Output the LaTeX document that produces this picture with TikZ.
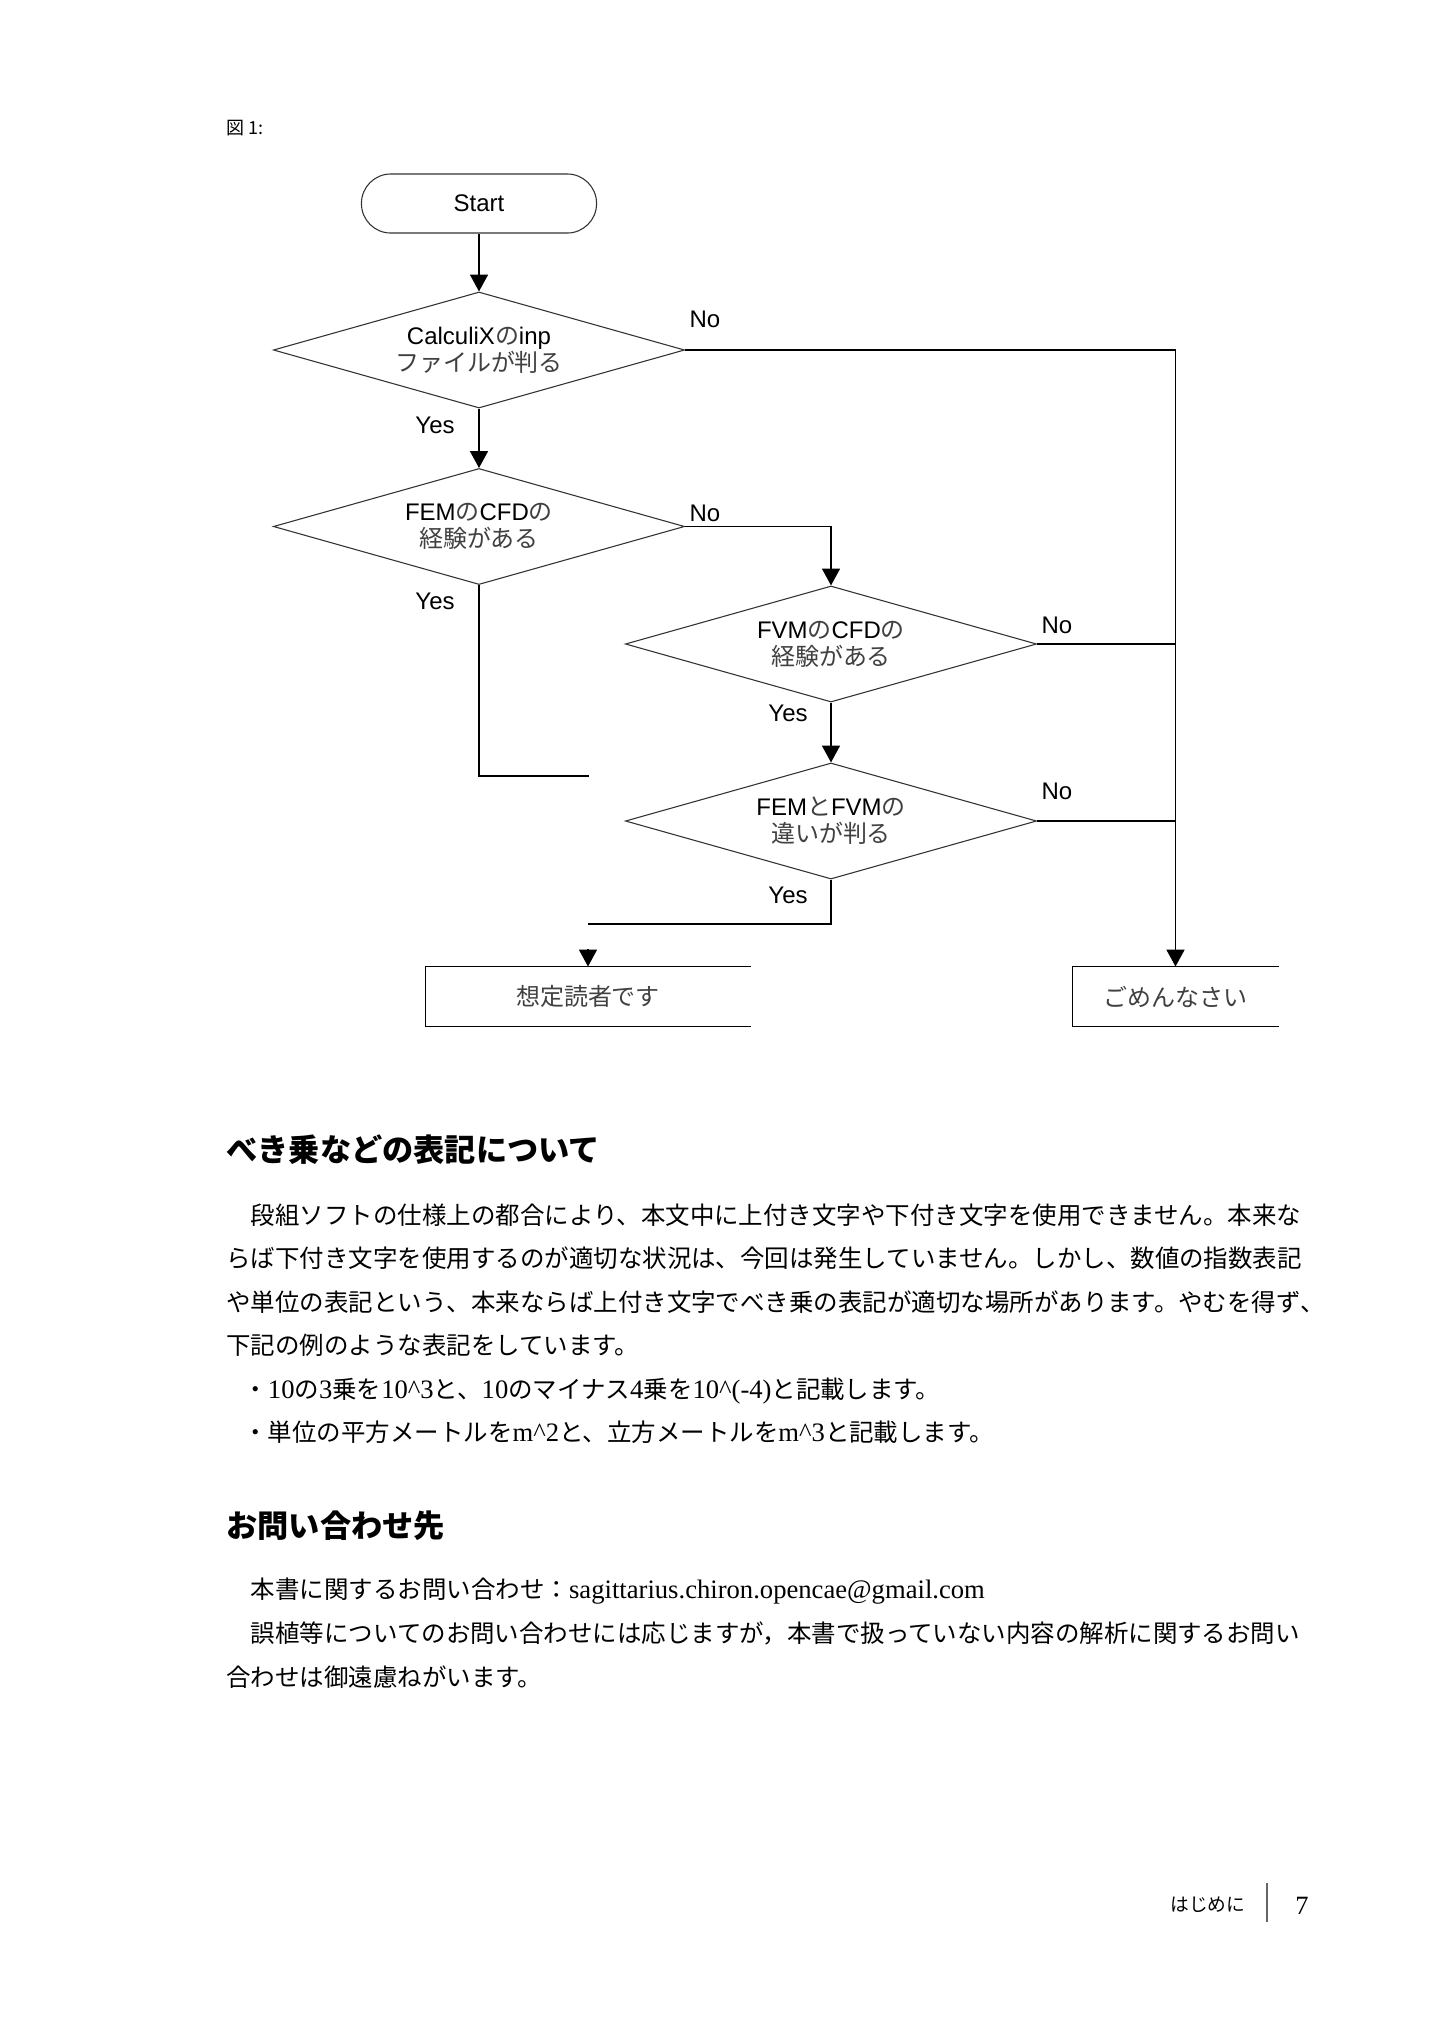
\documentclass[tikz,border=0pt]{standalone}
\usepackage{fontspec}
\setmainfont{Liberation Serif}
\newfontfamily\flowsans{Liberation Sans}
\newfontfamily\jpfont{Noto Sans CJK JP}
\usetikzlibrary{positioning, shapes.geometric, arrows.meta}
\newcommand{\fj}[1]{{\jpfont\color{black!75}#1}}
\newcommand{\bj}[1]{{\jpfont\fontsize{10.2}{12}\selectfont #1}}

\begin{document}
\begin{tikzpicture}[
  x=0.014655cm, y=-0.014655cm,
  >={Triangle[length=7pt, width=7.5pt]},
  flow/.style={->, draw=black, line width=0.5pt},
  link/.style={draw=black, line width=0.5pt},
  terminal/.style={draw=black!80, line width=0.45pt, rounded corners=0.43cm,
                   minimum width=3.444cm, minimum height=0.865cm, inner sep=0pt},
  decision/.style={draw=black!80, line width=0.45pt, diamond, aspect=3.54,
                   inner sep=0pt, minimum width=6.023cm, minimum height=1.7cm,
                   align=center},
  result/.style={minimum height=0.865cm, inner sep=0pt},
  answer/.style={font=\flowsans\fontsize{10}{12}\selectfont, inner sep=0pt},
  bodyline/.style={anchor=base west, inner sep=0pt,
                   font=\fontsize{11.1}{12}\selectfont},
  heading/.style={anchor=base west, inner sep=0pt,
                  font=\jpfont\bfseries\fontsize{13}{15}\selectfont},
  every node/.style={font=\flowsans\fontsize{10}{11.3}\selectfont}
]
  \path[fill=white] (0,0) rectangle (1433,2024);
  \useasboundingbox (0,0) rectangle (1433,2024);

  \node[anchor=west, inner sep=0pt, font=\jpfont\fontsize{7.5}{9}\selectfont]
    (figlabel) at (226,128) {図 1:};

  \node[terminal] (start)    at (479,203.5) {Start};
  \node[decision] (calculix) at (479,350)   {CalculiX\fj{の}inp\\\fj{ファイルが判る}};
  \node[decision] (fem)      at (479,526.5) {FEM\fj{の}CFD\fj{の}\\\fj{経験がある}};
  \node[decision] (fvm)      at (831,644)   {FVM\fj{の}CFD\fj{の}\\\fj{経験がある}};
  \node[decision] (diff)     at (831,821)   {FEM\fj{と}FVM\fj{の}\\\fj{違いが判る}};
  \node[result, minimum width=4.748cm] (reader) at (588,996.5)  {\fj{想定読者です}};
  \node[result, minimum width=3.004cm] (sorry)  at (1175.5,996.5) {\fj{ごめんなさい}};
  \draw[link] (reader.north east) -- (reader.north west) -- (reader.south west) -- (reader.south east);
  \draw[link] (sorry.north east) -- (sorry.north west) -- (sorry.south west) -- (sorry.south east);

  \node[answer] (noCalculix)  at (705,319)  {No};
  \node[answer] (yesCalculix) at (435,425)  {Yes};
  \node[answer] (noFem)       at (705,513)  {No};
  \node[answer] (yesFem)      at (435,601)  {Yes};
  \node[answer] (noFvm)       at (1057,625) {No};
  \node[answer] (yesFvm)      at (788,713)  {Yes};
  \node[answer] (noDiff)      at (1057,791) {No};
  \node[answer] (yesDiff)     at (788,895)  {Yes};

  \coordinate (femEnd)   at (589,776);
  \coordinate (diffEnd)  at (588,924);
  \coordinate (readerIn) at (588,949);

  \draw[flow] (start) -- (calculix);
  \draw[flow] (calculix) -- (fem);
  \draw[flow] (calculix.east) -| (sorry.north);
  \draw[flow] (fem.east) -| (fvm.north);
  \draw[flow] (fvm) -- (diff);
  \draw[link] (fvm.east) -- (fvm.east -| sorry.north);
  \draw[link] (diff.east) -- (diff.east -| sorry.north);
  \draw[link] (fem.south) |- (femEnd);
  \draw[link] (diff.south) |- (diffEnd);
  \draw[flow] (readerIn) -- (reader.north);

  \node[heading]  (powerTitle) at (226,1161) {べき乗などの表記について};
  \node[bodyline] (powerA) at (226,1224) {\bj{　段組ソフトの仕様上の都合により、本文中に上付き文字や下付き文字を使用できません。本来な}};
  \node[bodyline] (powerB) at (226,1267) {\bj{らば下付き文字を使用するのが適切な状況は、今回は発生していません。しかし、数値の指数表記}};
  \node[bodyline] (powerC) at (226,1311) {\bj{や単位の表記という、本来ならば上付き文字でべき乗の表記が適切な場所があります。やむを得ず\makebox[0.5em][l]{、}}};
  \node[bodyline] (powerD) at (226,1354) {\bj{下記の例のような表記をしています。}};
  \node[bodyline] (powerE) at (243,1398) {\bj{・}10\bj{の}3\bj{乗を}10\textasciicircum3\bj{と、}10\bj{のマイナス}4\bj{乗を}10\textasciicircum(-4)\bj{と記載します。}};
  \node[bodyline] (powerF) at (243,1441) {\bj{・単位の平方メートルを}m\textasciicircum2\bj{と、立方メートルを}m\textasciicircum3\bj{と記載します。}};

  \node[heading]  (contactTitle) at (226,1537) {お問い合わせ先};
  \node[bodyline] (contactA) at (226,1598) {\bj{　本書に関するお問い合わせ：}sagittarius.chiron.opencae@gmail.com};
  \node[bodyline] (contactB) at (226,1642) {\bj{　誤植等についてのお問い合わせには応じますが，本書で扱っていない内容の解析に関するお問い}};
  \node[bodyline] (contactC) at (226,1686) {\bj{合わせは御遠慮ねがいます。}};

  \node[anchor=west, inner sep=0pt, font=\jpfont\fontsize{7.8}{9}\selectfont]
    (chapter) at (1170,1905) {はじめに};
  \draw[draw=black!60, line width=0.5pt] (1267,1883) -- (1267,1922);
  \node[inner sep=0pt, font=\fontsize{11}{13}\selectfont] (pagenum) at (1302,1906) {7};
\end{tikzpicture}
\end{document}
